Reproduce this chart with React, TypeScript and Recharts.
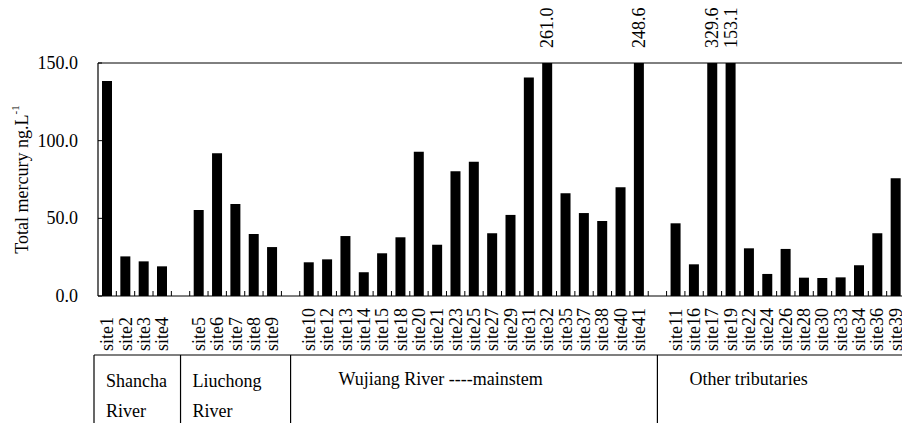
import React from "react";
import { BarChart, Bar, XAxis, YAxis, ReferenceLine, LabelList, Label } from "recharts";

// site names and total mercury values (ng/L) per river group
const shanchaSites = ["site1", "site2", "site3", "site4"];
const shanchaValues = [138.4, 25.5, 22.3, 19.1];

const liuchongSites = ["site5", "site6", "site7", "site8", "site9"];
const liuchongValues = [55.4, 91.9, 59.2, 39.9, 31.5];

const mainstemSites = [
  "site10", "site12", "site13", "site14", "site15", "site18", "site20", "site21", "site23", "site25",
  "site27", "site29", "site31", "site32", "site35", "site37", "site38", "site40", "site41",
];
const mainstemValues = [
  21.7, 23.6, 38.6, 15.3, 27.5, 37.8, 92.9, 33.0, 80.3, 86.5,
  40.4, 52.2, 140.6, 261.0, 66.1, 53.4, 48.3, 70.0, 248.6,
];

const tributarySites = [
  "site11", "site16", "site17", "site19", "site22", "site24", "site26", "site28", "site30", "site33",
  "site34", "site36", "site39",
];
const tributaryValues = [46.8, 20.4, 329.6, 153.1, 30.7, 14.2, 30.3, 11.8, 11.6, 12.0, 19.8, 40.4, 75.8];

const groupNames = [["Shancha", "River"], ["Liuchong", "River"], ["Wujiang River ----mainstem"], ["Other tributaries"]];
const yTicks = [0, 50, 100, 150];
const yMax = 150;

const groups = [
  { sites: shanchaSites, values: shanchaValues },
  { sites: liuchongSites, values: liuchongValues },
  { sites: mainstemSites, values: mainstemValues },
  { sites: tributarySites, values: tributaryValues },
];

// one empty slot between groups
const data: { site: string; label: string; hg: number | null }[] = [];
groups.forEach((g, gi) => {
  g.sites.forEach((s, i) => data.push({ site: s, label: s, hg: g.values[i] }));
  if (gi < groups.length - 1) data.push({ site: "gap" + gi, label: "", hg: null });
});

const FONT = '"Liberation Serif", "Times New Roman", Times, serif';
const serif = { fontFamily: FONT };
const W = 910;
const H = 423;
const M = { top: 63, right: 5, left: 0, bottom: 67 };
const Y_AXIS_W = 98;
const plotLeft = M.left + Y_AXIS_W;
const plotW = W - M.right - plotLeft;
const slot = plotW / data.length;

const SiteTick = (props: any) => {
  const { x, y, payload } = props;
  const row = data.find((d) => d.site === payload.value);
  const label = row ? row.label : "";
  const ly = y + 55;
  return (
    <g>
      <line x1={x + slot / 2} y1={y} x2={x + slot / 2} y2={y - 5} stroke="#000" strokeWidth={1} />
      {label && (
        <text
          x={x}
          y={ly}
          transform={`rotate(-90 ${x} ${ly})`}
          textAnchor="start"
          dominantBaseline="central"
          style={serif}
          fontSize={18}
          fill="#000"
        >
          {label}
        </text>
      )}
    </g>
  );
};

const ValueTick = (props: any) => {
  const { x, y, payload } = props;
  return (
    <g>
      <line x1={x} y1={y} x2={x + 4} y2={y} stroke="#000" />
      <text x={x - 20} y={y} textAnchor="end" dominantBaseline="central" style={serif} fontSize={18} fill="#000">
        {payload.value.toFixed(1)}
      </text>
    </g>
  );
};

const OverflowLabel = (props: any) => {
  const { x, width, value } = props;
  if (value == null || value <= yMax) return null;
  const cx = x + width / 2;
  const cy = M.top - 15;
  return (
    <text
      x={cx}
      y={cy}
      transform={`rotate(-90 ${cx} ${cy})`}
      textAnchor="start"
      dominantBaseline="central"
      style={serif}
      fontSize={18}
      fill="#000"
    >
      {value.toFixed(1)}
    </text>
  );
};

const YTitle = (props: any) => {
  const { viewBox } = props;
  const cx = 22;
  const cy = viewBox.y + viewBox.height / 2;
  return (
    <text
      x={cx}
      y={cy}
      transform={`rotate(-90 ${cx} ${cy})`}
      textAnchor="middle"
      dominantBaseline="central"
      style={serif}
      fontSize={18}
      fill="#000"
    >
      Total mercury ng.L
      <tspan dy={-7} fontSize={11}>-1</tspan>
    </text>
  );
};

// group table under the axis
const GroupTable = () => {
  const boxTop = 355;
  const lines: number[] = [94];
  let idx = 0;
  groups.forEach((g, gi) => {
    idx += g.sites.length;
    if (gi < groups.length - 1) {
      lines.push(plotLeft + (idx + 0.5) * slot);
      idx += 1;
    }
  });
  const textOffsets = [12, 12, 48, 32];
  return (
    <svg width={902} height={H} style={{ position: "absolute", left: 0, top: 0, pointerEvents: "none" }}>
      <line x1={94} y1={boxTop} x2={902} y2={boxTop} stroke="#000" strokeWidth={1.2} />
      {lines.map((lx, i) => (
        <line key={i} x1={lx} y1={boxTop} x2={lx} y2={H} stroke="#000" strokeWidth={1.2} />
      ))}
      {groupNames.map((rows, gi) =>
        rows.map((t, ri) => (
          <text
            key={gi + "-" + ri}
            x={lines[gi] + textOffsets[gi]}
            y={gi < 2 ? 387 + ri * 30 : 385}
            style={serif}
            fontSize={18}
            fill="#000"
          >
            {t}
          </text>
        ))
      )}
    </svg>
  );
};

export default function App() {
  return (
    <div style={{ position: "absolute", left: 0, top: 0, width: 902, height: H, overflow: "hidden", background: "#fff", fontFamily: FONT }}>
      <BarChart width={W} height={H} data={data} margin={M} barCategoryGap={0}>
        <XAxis
          dataKey="site"
          interval={0}
          height={60}
          tick={<SiteTick />}
          tickLine={false}
          tickSize={0}
          tickMargin={0}
          axisLine={{ stroke: "#000", strokeWidth: 1.2 }}
        />
        <YAxis
          width={Y_AXIS_W}
          domain={[0, yMax]}
          ticks={yTicks}
          allowDataOverflow
          tick={<ValueTick />}
          tickLine={false}
          tickSize={0}
          tickMargin={0}
          axisLine={{ stroke: "#000", strokeWidth: 1.2 }}
        >
          <Label content={<YTitle />} />
        </YAxis>
        <ReferenceLine y={yMax} stroke="#000" strokeWidth={1} />
        <Bar dataKey="hg" fill="#000" barSize={10} isAnimationActive={false}>
          <LabelList dataKey="hg" content={<OverflowLabel />} />
        </Bar>
      </BarChart>
      <GroupTable />
    </div>
  );
}
